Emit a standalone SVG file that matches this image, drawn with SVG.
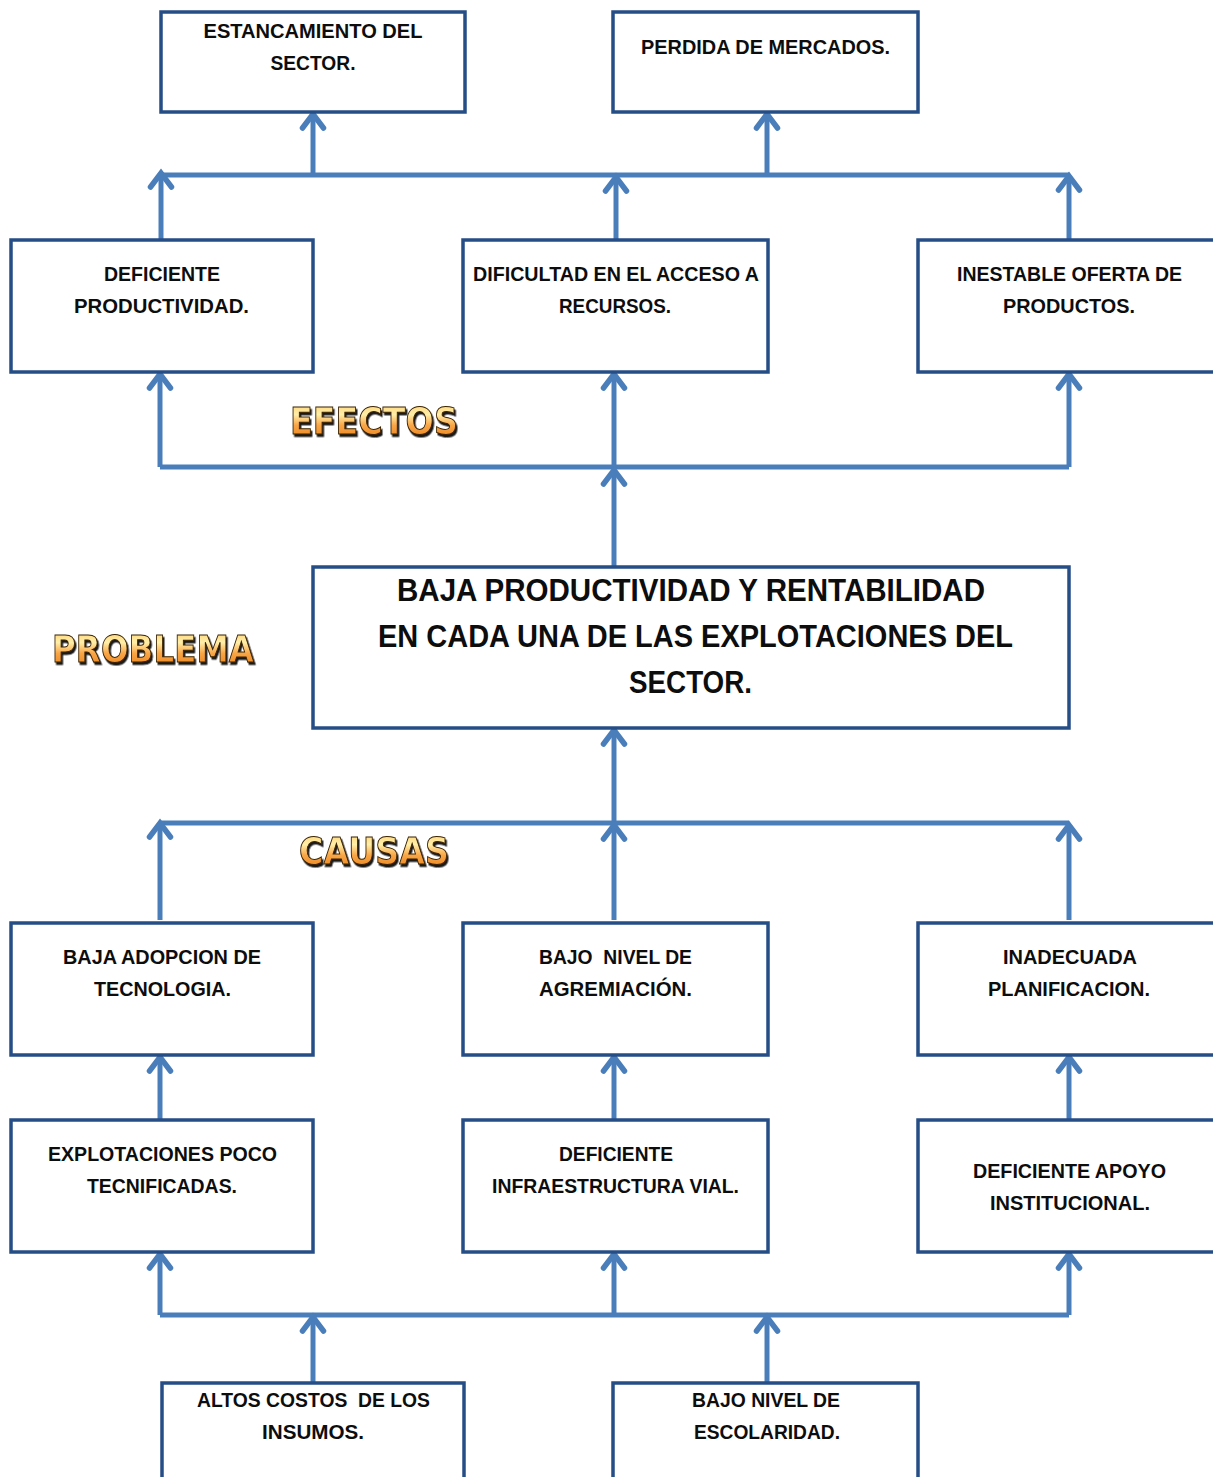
<svg xmlns="http://www.w3.org/2000/svg" width="1213" height="1477" viewBox="0 0 1213 1477">
<defs>
<style>
.box{fill:#fff;stroke:#264E86;stroke-width:3.5}
.t{font-family:"Liberation Sans",Arial,sans-serif;font-weight:bold;font-size:20px;fill:#0d0d0d;text-anchor:middle;white-space:pre}
.tp{font-family:"Liberation Sans",Arial,sans-serif;font-weight:bold;font-size:31px;fill:#0d0d0d;text-anchor:middle}
.conn{fill:none;stroke:#4A7EBB;stroke-width:5}
.arr{marker-end:url(#head)}
.wa{font-family:"DejaVu Sans","Liberation Sans",Arial,sans-serif;font-weight:bold;font-size:38px;fill:url(#orange);stroke:#3a2200;stroke-width:1;filter:url(#sh)}
</style>
<marker id="head" markerUnits="userSpaceOnUse" markerWidth="30" markerHeight="30" viewBox="-20 -15 30 30" refX="0" refY="0" orient="auto" overflow="visible">
<path d="M-14,-10.5 L0,0 L-14,10.5" fill="none" stroke="#4A7EBB" stroke-width="5.5" stroke-linecap="round" stroke-linejoin="miter"/>
</marker>
<linearGradient id="orange" x1="0" y1="0" x2="0" y2="1">
<stop offset="0" stop-color="#FFC766"/>
<stop offset="0.35" stop-color="#FFEFA8"/>
<stop offset="0.6" stop-color="#F9A546"/>
<stop offset="1" stop-color="#E57A12"/>
</linearGradient>
<filter id="sh" x="-10%" y="-20%" width="120%" height="150%">
<feDropShadow dx="1.5" dy="2.5" stdDeviation="0.7" flood-color="#111" flood-opacity="0.95"/>
</filter>
</defs>

<g id="connectors">
<path class="conn" d="M160,175 H1069"/>
<path class="conn arr" d="M313,175 V114"/>
<path class="conn arr" d="M767,175 V114"/>
<path class="conn arr" d="M161,240 V173"/>
<path class="conn arr" d="M616,240 V177"/>
<path class="conn arr" d="M1069,240 V176"/>
<path class="conn" d="M160,467 H1069"/>
<path class="conn arr" d="M160,467 V374"/>
<path class="conn arr" d="M614,467 V374"/>
<path class="conn arr" d="M1069,467 V374"/>
<path class="conn arr" d="M614,567 V470"/>
<path class="conn" d="M160,823 H1069"/>
<path class="conn arr" d="M614,823 V730"/>
<path class="conn arr" d="M160,920 V823"/>
<path class="conn arr" d="M614,920 V825"/>
<path class="conn arr" d="M1069,920 V825"/>
<path class="conn arr" d="M160,1120 V1057"/>
<path class="conn arr" d="M614,1120 V1057"/>
<path class="conn arr" d="M1069,1120 V1057"/>
<path class="conn" d="M160,1315 H1069"/>
<path class="conn arr" d="M160,1315 V1254"/>
<path class="conn arr" d="M614,1317 V1254"/>
<path class="conn arr" d="M1069,1315 V1254"/>
<path class="conn arr" d="M313,1382 V1317"/>
<path class="conn arr" d="M767,1382 V1317"/>
</g>

<g id="n-estancamiento">
<rect class="box" x="161" y="12" width="304" height="100"/>
<text class="t" x="313" y="38" textLength="219" lengthAdjust="spacingAndGlyphs">ESTANCAMIENTO DEL</text>
<text class="t" x="313" y="70" textLength="85" lengthAdjust="spacingAndGlyphs">SECTOR.</text>
</g>
<g id="n-perdida">
<rect class="box" x="613" y="12" width="305" height="100"/>
<text class="t" x="765.5" y="54" textLength="249" lengthAdjust="spacingAndGlyphs">PERDIDA DE MERCADOS.</text>
</g>

<g id="n-deficiente-prod">
<rect class="box" x="11" y="240" width="302" height="132"/>
<text class="t" x="162" y="281" textLength="116" lengthAdjust="spacingAndGlyphs">DEFICIENTE</text>
<text class="t" x="161.5" y="313" textLength="175" lengthAdjust="spacingAndGlyphs">PRODUCTIVIDAD.</text>
</g>
<g id="n-dificultad">
<rect class="box" x="463" y="240" width="305" height="132"/>
<text class="t" x="616" y="281" textLength="286" lengthAdjust="spacingAndGlyphs">DIFICULTAD EN EL ACCESO A</text>
<text class="t" x="615" y="313" textLength="112" lengthAdjust="spacingAndGlyphs">RECURSOS.</text>
</g>
<g id="n-inestable">
<rect class="box" x="918" y="240" width="304" height="132"/>
<text class="t" x="1069.5" y="281" textLength="225" lengthAdjust="spacingAndGlyphs">INESTABLE OFERTA DE</text>
<text class="t" x="1069" y="313" textLength="132" lengthAdjust="spacingAndGlyphs">PRODUCTOS.</text>
</g>

<g id="l-efectos">
<text class="wa" x="290" y="434" textLength="168" lengthAdjust="spacingAndGlyphs">EFECTOS</text>
</g>

<g id="n-problema">
<rect class="box" x="313" y="567" width="756" height="161"/>
<text class="tp" x="691" y="601" textLength="588" lengthAdjust="spacingAndGlyphs">BAJA PRODUCTIVIDAD Y RENTABILIDAD</text>
<text class="tp" x="695.5" y="647" textLength="635" lengthAdjust="spacingAndGlyphs">EN CADA UNA DE LAS EXPLOTACIONES DEL</text>
<text class="tp" x="690.5" y="693" textLength="123" lengthAdjust="spacingAndGlyphs">SECTOR.</text>
</g>

<g id="l-problema">
<text class="wa" x="52" y="662" textLength="202" lengthAdjust="spacingAndGlyphs">PROBLEMA</text>
</g>
<g id="l-causas">
<text class="wa" x="299" y="864" textLength="150" lengthAdjust="spacingAndGlyphs">CAUSAS</text>
</g>

<g id="n-baja-adopcion">
<rect class="box" x="11" y="923" width="302" height="132"/>
<text class="t" x="162" y="964" textLength="198" lengthAdjust="spacingAndGlyphs">BAJA ADOPCION DE</text>
<text class="t" x="162.5" y="996" textLength="137" lengthAdjust="spacingAndGlyphs">TECNOLOGIA.</text>
</g>
<g id="n-agremiacion">
<rect class="box" x="463" y="923" width="305" height="132"/>
<text class="t" x="615.5" y="964" textLength="153" lengthAdjust="spacingAndGlyphs">BAJO  NIVEL DE</text>
<text class="t" x="615.5" y="996" textLength="153" lengthAdjust="spacingAndGlyphs">AGREMIACIÓN.</text>
</g>
<g id="n-planificacion">
<rect class="box" x="918" y="923" width="304" height="132"/>
<text class="t" x="1070" y="964" textLength="134" lengthAdjust="spacingAndGlyphs">INADECUADA</text>
<text class="t" x="1069" y="996" textLength="162" lengthAdjust="spacingAndGlyphs">PLANIFICACION.</text>
</g>

<g id="n-explotaciones">
<rect class="box" x="11" y="1120" width="302" height="132"/>
<text class="t" x="162.5" y="1161" textLength="229" lengthAdjust="spacingAndGlyphs">EXPLOTACIONES POCO</text>
<text class="t" x="162" y="1193" textLength="150" lengthAdjust="spacingAndGlyphs">TECNIFICADAS.</text>
</g>
<g id="n-infraestructura">
<rect class="box" x="463" y="1120" width="305" height="132"/>
<text class="t" x="616" y="1161" textLength="114" lengthAdjust="spacingAndGlyphs">DEFICIENTE</text>
<text class="t" x="615.5" y="1193" textLength="247" lengthAdjust="spacingAndGlyphs">INFRAESTRUCTURA VIAL.</text>
</g>
<g id="n-apoyo">
<rect class="box" x="918" y="1120" width="304" height="132"/>
<text class="t" x="1069.5" y="1178" textLength="193" lengthAdjust="spacingAndGlyphs">DEFICIENTE APOYO</text>
<text class="t" x="1070" y="1210" textLength="160" lengthAdjust="spacingAndGlyphs">INSTITUCIONAL.</text>
</g>

<g id="n-insumos">
<rect class="box" x="162" y="1383" width="302" height="120"/>
<text class="t" x="313.5" y="1407" textLength="233" lengthAdjust="spacingAndGlyphs">ALTOS COSTOS  DE LOS</text>
<text class="t" x="313" y="1439" textLength="102" lengthAdjust="spacingAndGlyphs">INSUMOS.</text>
</g>
<g id="n-escolaridad">
<rect class="box" x="613" y="1383" width="305" height="120"/>
<text class="t" x="766" y="1407" textLength="148" lengthAdjust="spacingAndGlyphs">BAJO NIVEL DE</text>
<text class="t" x="767" y="1439" textLength="146" lengthAdjust="spacingAndGlyphs">ESCOLARIDAD.</text>
</g>
</svg>
